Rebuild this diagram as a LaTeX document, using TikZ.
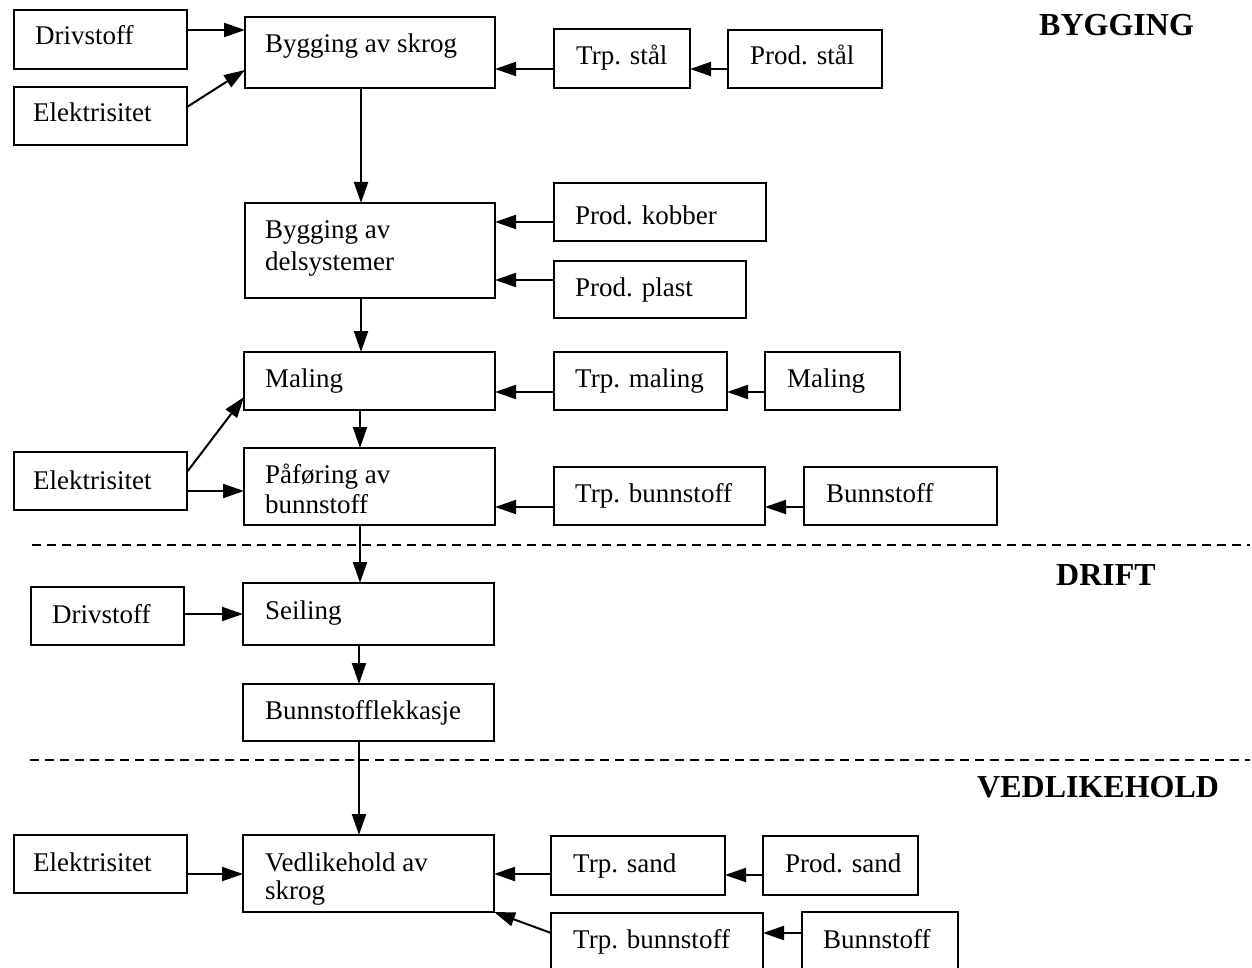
\documentclass[tikz,border=0pt]{standalone}
\usepackage{fontspec}
\setmainfont{Liberation Serif}
\usetikzlibrary{arrows.meta}

% \flowbox{name}{x1}{y1}{x2}{y2}: a framed box given by its corners (pt, y downward)
\newcommand\flowbox[5]{%
  \node[boxst, anchor=north west, minimum width={#4pt-#2pt}, minimum height={#5pt-#3pt}] (#1) at (#2,#3) {};}
% \boxtext{name}{x}{y}{text}: one line of text, placed by its baseline
\newcommand\boxtext[4]{%
  \node[txt, anchor=base west] (#1) at (#2,#3) {#4};}

\tikzset{
  boxst/.style={draw=black, line width=2pt, inner sep=0pt, outer sep=0pt, fill=white},
  txt/.style={inner sep=0pt, font=\fontsize{27}{30}\selectfont},
  phase/.style={inner sep=0pt, font=\fontsize{32}{35}\selectfont\bfseries},
  arr/.style={line width=2pt, -{Triangle[length=21pt,width=14pt]}},
  sep/.style={line width=2pt, dash pattern=on 9pt off 6pt},
}

\begin{document}
\begin{tikzpicture}[x=1pt, y=-1pt]
\useasboundingbox (0,0) rectangle (1252,968);
\clip (0,0) rectangle (1252,968);

% phase separators
\coordinate (sepAl) at (32,545);
\coordinate (sepAr) at (1250,545);
\coordinate (sepBl) at (30,760);
\coordinate (sepBr) at (1250,760);
\draw[sep] (sepAl) -- (sepAr);
\draw[sep] (sepBl) -- (sepBr);

% phase headings
\node[phase, anchor=base west] (hBygg) at (1039,36) {BYGGING};
\node[phase, anchor=base west] (hDrift) at (1056,585) {DRIFT};
\node[phase, anchor=base west] (hVedl) at (977,797) {VEDLIKEHOLD};

% building phase
\flowbox{drv1}{14}{10}{187}{69}
\boxtext{drv1t}{35}{45}{Drivstoff}
\flowbox{elk1}{14}{87}{187}{145}
\boxtext{elk1t}{33}{122}{Elektrisitet}
\flowbox{skrog}{245}{17}{495}{88}
\boxtext{skrogt}{265}{53}{Bygging av skrog}
\flowbox{trpstal}{554}{29}{690}{88}
\boxtext{trpstalt}{576}{65}{Trp. stål}
\flowbox{prodstal}{728}{30}{882}{88}
\boxtext{prodstalt}{750}{65}{Prod. stål}

\flowbox{delsys}{245}{203}{495}{298}
\boxtext{delsyst1}{265}{239}{Bygging av}
\boxtext{delsyst2}{265}{270}{delsystemer}
\flowbox{kobber}{554}{183}{766}{241}
\boxtext{kobbert}{575}{225}{Prod. kobber}
\flowbox{plast}{554}{261}{746}{318}
\boxtext{plastt}{575}{296}{Prod. plast}

\flowbox{maling}{244}{352}{495}{410}
\boxtext{malingt}{265}{387}{Maling}
\flowbox{trpmal}{554}{352}{727}{410}
\boxtext{trpmalt}{575}{387}{Trp. maling}
\flowbox{malsrc}{765}{352}{900}{410}
\boxtext{malsrct}{787}{387}{Maling}

\flowbox{elk2}{14}{452}{187}{510}
\boxtext{elk2t}{33}{489}{Elektrisitet}
\flowbox{paf}{244}{448}{495}{525}
\boxtext{paft1}{265}{483}{Påføring av}
\boxtext{paft2}{265}{513}{bunnstoff}
\flowbox{trpbun1}{554}{467}{765}{525}
\boxtext{trpbun1t}{575}{502}{Trp. bunnstoff}
\flowbox{bun1}{804}{467}{997}{525}
\boxtext{bun1t}{826}{502}{Bunnstoff}

% operation phase
\flowbox{drv2}{31}{587}{184}{645}
\boxtext{drv2t}{52}{623}{Drivstoff}
\flowbox{seil}{243}{583}{494}{645}
\boxtext{seilt}{265}{619}{Seiling}
\flowbox{lekk}{243}{684}{494}{741}
\boxtext{lekkt}{265}{719}{Bunnstofflekkasje}

% maintenance phase
\flowbox{elk3}{14}{835}{187}{893}
\boxtext{elk3t}{33}{871}{Elektrisitet}
\flowbox{vedl}{243}{835}{494}{912}
\boxtext{vedlt1}{265}{871}{Vedlikehold av}
\boxtext{vedlt2}{265}{899}{skrog}
\flowbox{trpsand}{551}{836}{725}{895}
\boxtext{trpsandt}{573}{872}{Trp. sand}
\flowbox{prodsand}{763}{836}{918}{895}
\boxtext{prodsandt}{785}{872}{Prod. sand}
\flowbox{trpbun2}{551}{913}{763}{990}
\boxtext{trpbun2t}{573}{948}{Trp. bunnstoff}
\flowbox{bun2}{802}{912}{958}{990}
\boxtext{bun2t}{823}{948}{Bunnstoff}

% connectors
\draw[arr] (drv1.east |- 0,30) -- (skrog.west |- 0,30);
\draw[arr] (elk1.east |- 0,107) -- (skrog.west |- 0,70);
\draw[arr] (trpstal.west |- 0,69) -- (skrog.east |- 0,69);
\draw[arr] (prodstal.west |- 0,69) -- (trpstal.east |- 0,69);
\draw[arr] (skrog.south -| 361,0) -- (delsys.north -| 361,0);
\draw[arr] (kobber.west |- 0,222) -- (delsys.east |- 0,222);
\draw[arr] (plast.west |- 0,280) -- (delsys.east |- 0,280);
\draw[arr] (delsys.south -| 361,0) -- (maling.north -| 361,0);
\draw[arr] (trpmal.west |- 0,392) -- (maling.east |- 0,392);
\draw[arr] (malsrc.west |- 0,392) -- (trpmal.east |- 0,392);
\draw[arr] (elk2.east |- 0,472) -- (maling.west |- 0,397);
\draw[arr] (elk2.east |- 0,491) -- (paf.west |- 0,491);
\draw[arr] (maling.south -| 360,0) -- (paf.north -| 360,0);
\draw[arr] (trpbun1.west |- 0,507) -- (paf.east |- 0,507);
\draw[arr] (bun1.west |- 0,507) -- (trpbun1.east |- 0,507);
\draw[arr] (paf.south -| 360,0) -- (seil.north -| 360,0);
\draw[arr] (drv2.east |- 0,614) -- (seil.west |- 0,614);
\draw[arr] (seil.south -| 359,0) -- (lekk.north -| 359,0);
\draw[arr] (lekk.south -| 359,0) -- (vedl.north -| 359,0);
\draw[arr] (elk3.east |- 0,874) -- (vedl.west |- 0,874);
\draw[arr] (trpsand.west |- 0,874) -- (vedl.east |- 0,874);
\draw[arr] (prodsand.west |- 0,875) -- (trpsand.east |- 0,875);
\draw[arr] (trpbun2.west |- 0,933) -- (vedl.east |- 0,912);
\draw[arr] (bun2.west |- 0,933) -- (trpbun2.east |- 0,933);
\end{tikzpicture}
\end{document}
